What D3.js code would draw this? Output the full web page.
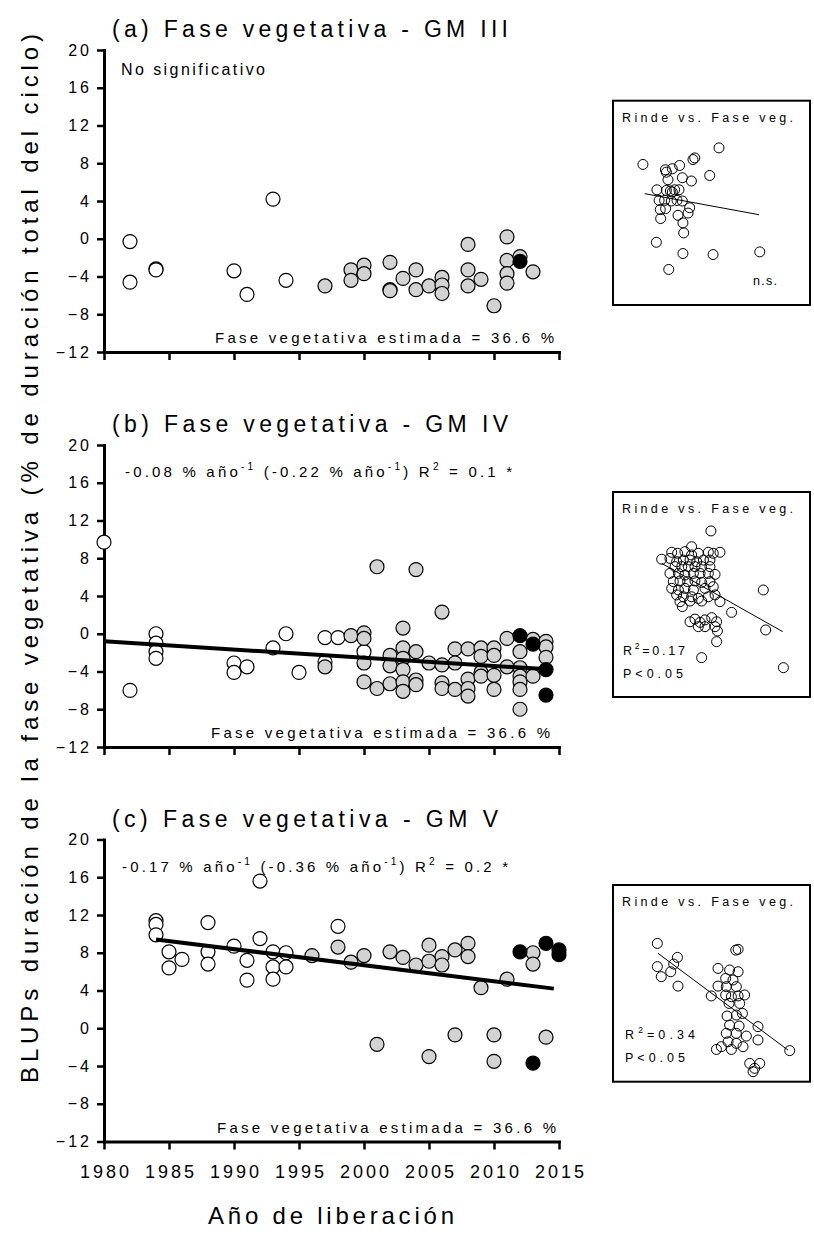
<!DOCTYPE html>
<html>
<head>
<meta charset="utf-8">
<script src="https://cdn.jsdelivr.net/npm/d3@7"></script>
<style>
  body { margin: 0; background: #fff; }
  svg text { font-family: "Liberation Sans", Arial, sans-serif; fill: #000; }
</style>
</head>
<body>
<div id="chart"></div>
<script>
// ticks shared by the three panels
var yTicks = [-12, -8, -4, 0, 4, 8, 12, 16, 20];
var yearTicks = [1980, 1985, 1990, 1995, 2000, 2005, 2010, 2015];

// (a) GM III  [año de liberación, BLUP]
var gm3Old = [[1982, -0.3], [1982, -4.6], [1984, -3.2], [1984, -3.3], [1990, -3.4], [1991, -5.9], [1993, 4.2], [1994, -4.4]];
var gm3Mid = [[1997, -5.0], [1999, -3.3], [1999, -4.4], [2000, -2.8], [2000, -3.7], [2002, -2.5], [2002, -5.4], [2002, -5.5],
  [2003, -4.2], [2004, -3.3], [2004, -5.4], [2005, -5.0], [2006, -4.1], [2006, -4.9], [2006, -5.8], [2008, -0.6], [2008, -3.3],
  [2008, -5.0], [2009, -4.3], [2010, -7.1], [2011, 0.2], [2011, -2.3], [2011, -3.7], [2011, -4.7], [2012, -1.9], [2013, -3.5]];
var gm3New = [[2012, -2.4]];

// (b) GM IV
var gm4Old = [[1980, 9.7], [1982, -6.0], [1984, 0.0], [1984, -1.0], [1984, -1.9], [1984, -2.6], [1990, -3.1], [1990, -4.1],
  [1991, -3.5], [1993, -1.5], [1994, 0.0], [1995, -4.1], [1997, -0.4], [1997, -3.0], [1998, -0.4], [2000, -1.9]];
var gm4Mid = [[1997, -3.5], [1999, -0.2], [2000, 0.1], [2000, -0.5], [2000, -3.1], [2000, -5.1], [2001, 7.1], [2001, -5.8],
  [2002, -2.3], [2002, -3.4], [2002, -5.3], [2003, 0.6], [2003, -1.5], [2003, -2.6], [2003, -3.8], [2003, -5.1], [2003, -6.1],
  [2004, 6.8], [2004, -1.9], [2004, -4.9], [2004, -5.4], [2005, -3.1], [2006, 2.3], [2006, -3.3], [2006, -5.2], [2006, -5.8],
  [2007, -1.6], [2007, -3.1], [2007, -5.9], [2008, -1.6], [2008, -4.8], [2008, -5.8], [2008, -6.6], [2009, -1.5], [2009, -2.4],
  [2009, -4.1], [2009, -4.5], [2010, -1.5], [2010, -2.3], [2010, -4.4], [2010, -5.9], [2011, -0.5], [2011, -3.5], [2012, -1.9],
  [2012, -3.6], [2012, -4.5], [2012, -5.1], [2012, -5.9], [2012, -8.0], [2013, -0.6], [2013, -4.5], [2014, -0.8], [2014, -1.4],
  [2014, -2.5]];
var gm4New = [[2012, -0.2], [2013, -1.1], [2014, -3.8], [2014, -6.5]];
var gm4Trend = [[1980, -0.8], [2014.5, -3.8]];

// (c) GM V
var gm5Old = [[1984, 11.4], [1984, 11.0], [1984, 9.9], [1985, 8.1], [1985, 6.4], [1986, 7.3], [1988, 11.2], [1988, 8.1],
  [1988, 6.8], [1990, 8.7], [1991, 7.2], [1991, 5.1], [1992, 15.6], [1992, 9.5], [1993, 8.1], [1993, 6.5], [1993, 5.2],
  [1994, 8.0], [1994, 6.5], [1998, 10.8]];
var gm5Mid = [[1996, 7.7], [1998, 8.6], [1999, 7.0], [2000, 7.7], [2001, -1.7], [2002, 8.1], [2003, 7.5], [2004, 6.7],
  [2005, 8.8], [2005, 7.1], [2005, -3.0], [2006, 7.6], [2006, 6.7], [2007, 8.3], [2007, -0.7], [2008, 9.0], [2008, 7.6],
  [2009, 4.3], [2010, -0.7], [2010, -3.5], [2011, 5.2], [2013, 8.0], [2013, 6.8], [2014, -0.95]];
var gm5New = [[2012, 8.1], [2013, -3.7], [2014, 9.0], [2015, 8.3], [2015, 7.8]];
var gm5Trend = [[1984, 9.4], [2014.6, 4.2]];

// insets: rinde vs. fase veg. (relative units 0-100)
var insetGM3 = [[15.2, 68.8], [26.6, 66.2], [27.1, 65.0], [30.1, 66.7], [33.8, 68.3], [40.6, 71.2], [41.5, 72.0], [53.8, 76.9],
  [27.9, 61.3], [35.2, 62.3], [39.8, 60.7], [49.1, 63.4], [22.3, 56.4], [27.1, 56.1], [29.1, 55.8], [30.1, 55.3], [31.3, 56.4],
  [33.5, 56.4], [23.4, 51.2], [26.2, 51.2], [29.6, 50.9], [32.5, 51.2], [35.2, 50.9], [38.9, 47.6], [24.0, 46.7], [26.7, 47.2],
  [33.0, 43.9], [38.1, 45.0], [24.2, 42.3], [35.5, 40.2], [35.9, 35.3], [22.0, 30.7], [35.5, 25.2], [50.8, 24.7], [74.5, 26.0],
  [28.3, 17.4]];
var insetGM3Fit = [[16.1, 54.5], [74.1, 44.2]];

var insetGM4 = [[49.7, 81.0], [39.9, 73.3], [29.8, 70.6], [32.8, 70.1], [36.5, 70.9], [39.9, 69.3], [43.3, 70.1], [48.4, 70.6],
  [50.9, 70.1], [54.3, 70.6], [24.7, 67.2], [28.9, 67.6], [32.3, 66.0], [35.7, 66.8], [39.1, 66.8], [42.5, 66.0], [45.9, 66.8],
  [49.2, 66.8], [31.5, 63.6], [34.9, 63.6], [38.2, 63.6], [41.6, 63.6], [45.0, 63.6], [49.2, 63.6], [28.9, 60.3], [33.2, 60.3],
  [36.5, 59.5], [40.8, 60.3], [44.2, 60.3], [48.4, 60.3], [51.8, 59.8], [30.6, 56.3], [34.0, 56.6], [37.9, 56.3], [41.6, 56.6],
  [45.0, 55.9], [49.2, 56.3], [29.8, 53.0], [33.2, 52.2], [36.5, 53.0], [40.8, 52.2], [46.7, 53.0], [50.9, 53.8], [32.3, 49.8],
  [35.7, 48.9], [39.9, 48.9], [43.3, 48.1], [48.4, 48.9], [51.8, 49.8], [54.3, 46.5], [34.0, 46.5], [35.2, 44.1], [39.1, 46.8],
  [45.0, 46.8], [76.3, 52.2], [60.2, 41.3], [39.1, 36.7], [41.6, 38.0], [44.2, 36.4], [46.7, 37.6], [50.1, 38.7], [52.6, 36.7],
  [43.3, 34.3], [46.7, 34.3], [51.8, 34.3], [53.0, 32.2], [77.5, 32.7], [52.6, 27.0], [45.0, 19.2], [86.5, 14.3]];
var insetGM4Fit = [[24.7, 65.2], [86.1, 31.9]];

var insetGM5 = [[22.5, 70.3], [32.7, 63.2], [22.5, 58.5], [24.5, 53.4], [29.3, 55.9], [30.8, 59.8], [33.0, 48.6], [62.3, 66.9],
  [63.5, 67.3], [53.3, 57.6], [59.2, 56.8], [63.5, 55.9], [57.2, 52.5], [60.9, 51.7], [57.5, 48.3], [53.3, 48.6], [62.6, 48.3],
  [57.2, 44.1], [60.1, 43.2], [63.5, 43.6], [66.8, 44.1], [58.9, 39.8], [64.3, 39.8], [49.9, 43.6], [57.9, 33.4], [62.6, 33.9],
  [65.7, 34.7], [59.2, 28.8], [64.0, 28.3], [73.6, 28.0], [57.5, 24.6], [62.6, 24.6], [67.7, 23.2], [73.6, 21.2], [58.4, 20.3],
  [62.6, 19.5], [55.0, 17.8], [52.5, 16.4], [60.1, 16.4], [66.0, 17.8], [89.7, 15.8], [69.4, 9.3], [71.9, 6.8], [74.5, 9.3],
  [71.1, 5.1]];
var insetGM5Fit = [[22.8, 65.3], [88.8, 16.1]];

var svgWidth = 814;
var svgHeight = 1236;
var left = 104, right = 559, plotH = 302;

var svg = d3.select("#chart")
  .append("svg")
  .attr("width", svgWidth)
  .attr("height", svgHeight);

svg.append("rect").attr("width", svgWidth).attr("height", svgHeight).attr("fill", "#fff");

var x = d3.scaleLinear().domain([1980, 2015]).range([left, right]);

var panels = [
  { top: 50, title: "(a) Fase vegetativa - GM III", titleLen: 396, old: gm3Old, mid: gm3Mid, recent: gm3New, trend: null,
    note: { x: 121, dy: 25, len: 144, parts: [["No significativo", 0]] }, estX: 215, years: false,
    inset: { top: 100.7, bottom: 305, pts: insetGM3, fit: insetGM3Fit, labels: [{ x: 753, y: 285, len: 24, parts: [["n.s.", 0]] }] } },
  { top: 445, title: "(b) Fase vegetativa - GM IV", titleLen: 396, old: gm4Old, mid: gm4Mid, recent: gm4New, trend: gm4Trend,
    note: { x: 125, dy: 32, len: 387, parts: [["-0.08 % año", 0], ["-1", 1], [" (-0.22 % año", 0], ["-1", 1], [") R", 0], ["2", 1], [" = 0.1 *", 0]] },
    estX: 211, years: false,
    inset: { top: 492, bottom: 697, pts: insetGM4, fit: insetGM4Fit, labels: [
      { x: 623, y: 655, len: 62, parts: [["R", 0], ["2", 1], ["=0.17", 0]] },
      { x: 623, y: 678, len: 60, parts: [["P<0.05", 0]] }] } },
  { top: 839.5, title: "(c) Fase vegetativa - GM V", titleLen: 386, old: gm5Old, mid: gm5Mid, recent: gm5New, trend: gm5Trend,
    note: { x: 122, dy: 32, len: 386, parts: [["-0.17 % año", 0], ["-1", 1], [" (-0.36 % año", 0], ["-1", 1], [") R", 0], ["2", 1], [" = 0.2 *", 0]] },
    estX: 217, years: true,
    inset: { top: 885, bottom: 1081.7, pts: insetGM5, fit: insetGM5Fit, labels: [
      { x: 625, y: 1039, len: 70, parts: [["R", 0], ["2", 1], ["=0.34", 0]] },
      { x: 625, y: 1062, len: 60, parts: [["P<0.05", 0]] }] } }
];

// text with superscripts, stretched to the measured width
function richText(g, t, size) {
  var el = g.append("text")
    .attr("x", t.x)
    .attr("y", t.y)
    .attr("font-size", size)
    .attr("textLength", t.len)
    .attr("lengthAdjust", "spacing");
  var up = false;
  t.parts.forEach(function(p) {
    var span = el.append("tspan").text(p[0]);
    if (p[1] && !up) { span.attr("dy", -size * 0.45).attr("font-size", size * 0.68); up = true; }
    else if (p[1]) { span.attr("font-size", size * 0.68); }
    else if (up) { span.attr("dy", size * 0.45); up = false; }
  });
  return el;
}

panels.forEach(function(p) {
  var y = d3.scaleLinear().domain([-12, 20]).range([p.top + plotH, p.top]);
  var g = svg.append("g");

  // title
  g.append("text")
    .attr("x", 112)
    .attr("y", p.top - 13)
    .attr("font-size", 23)
    .attr("textLength", p.titleLen)
    .attr("lengthAdjust", "spacing")
    .text(p.title);

  // axes
  var leftAxis = d3.axisLeft(y).tickValues(yTicks).tickSize(7).tickSizeOuter(0).tickPadding(5);
  var bottomAxis = d3.axisBottom(x).tickValues(yearTicks).tickSize(8).tickSizeOuter(0).tickPadding(16)
    .tickFormat(d3.format("d"));
  if (!p.years) bottomAxis.tickFormat("");

  var ya = g.append("g").attr("transform", `translate(${left},0)`).call(leftAxis);
  var xa = g.append("g").attr("transform", `translate(0,${p.top + plotH})`).call(bottomAxis);

  [ya, xa].forEach(function(a) {
    a.select(".domain").attr("stroke", "#000").attr("stroke-width", 3).attr("stroke-linecap", "square");
    a.selectAll(".tick line").attr("stroke", "#000").attr("stroke-width", 2.5);
    a.selectAll(".tick text")
      .attr("font-family", "Liberation Sans, Arial, sans-serif")
      .attr("fill", "#000")
      .attr("letter-spacing", "3px");
  });
  ya.selectAll(".tick text").attr("font-size", 16);
  xa.selectAll(".tick text").attr("font-size", 18).attr("dx", "1.5px");

  // points: old, intermediate and recent releases
  [[p.old, "#fff"], [p.mid, "#d3d3d3"], [p.recent, "#000"]].forEach(function(s) {
    g.append("g").selectAll("circle")
      .data(s[0])
      .enter()
      .append("circle")
      .attr("cx", d => x(d[0]))
      .attr("cy", d => y(d[1]))
      .attr("r", 7)
      .attr("fill", s[1])
      .attr("stroke", "#000")
      .attr("stroke-width", 1.2);
  });

  if (p.trend) {
    var line = d3.line().x(d => x(d[0])).y(d => y(d[1]));
    g.append("path")
      .datum(p.trend)
      .attr("d", line)
      .attr("fill", "none")
      .attr("stroke", "#000")
      .attr("stroke-width", 4);
  }

  // annotations
  richText(g, { x: p.note.x, y: p.top + p.note.dy, len: p.note.len, parts: p.note.parts }, p.trend ? 15 : 16);

  g.append("text")
    .attr("x", p.estX)
    .attr("y", p.top + 293)
    .attr("font-size", 15)
    .attr("textLength", 339)
    .attr("lengthAdjust", "spacing")
    .text("Fase vegetativa estimada = 36.6 %");

  // inset
  var ins = p.inset;
  var ix = d3.scaleLinear().domain([0, 100]).range([613, 810]);
  var iy = d3.scaleLinear().domain([0, 100]).range([ins.bottom, ins.top]);
  var ig = svg.append("g");

  ig.append("rect")
    .attr("x", 613)
    .attr("y", ins.top)
    .attr("width", 197)
    .attr("height", ins.bottom - ins.top)
    .attr("fill", "#fff")
    .attr("stroke", "#000")
    .attr("stroke-width", 2);

  ig.append("text")
    .attr("x", 622)
    .attr("y", ins.top + 21)
    .attr("font-size", 12.5)
    .attr("textLength", 171)
    .attr("lengthAdjust", "spacing")
    .text("Rinde vs. Fase veg.");

  ig.append("g").selectAll("circle")
    .data(ins.pts)
    .enter()
    .append("circle")
    .attr("cx", d => ix(d[0]))
    .attr("cy", d => iy(d[1]))
    .attr("r", 5)
    .attr("fill", "none")
    .attr("stroke", "#000")
    .attr("stroke-width", 1);

  ig.append("path")
    .datum(ins.fit)
    .attr("d", d3.line().x(d => ix(d[0])).y(d => iy(d[1])))
    .attr("stroke", "#000")
    .attr("stroke-width", 1);

  ins.labels.forEach(function(l) { richText(ig, l, 12.5); });
});

// axis titles
svg.append("text")
  .attr("transform", "translate(38, 1083) rotate(-90)")
  .attr("font-size", 24)
  .attr("textLength", 1049)
  .attr("lengthAdjust", "spacing")
  .text("BLUPs duración de la fase vegetativa (% de duración total del ciclo)");

svg.append("text")
  .attr("x", 208)
  .attr("y", 1224)
  .attr("font-size", 24)
  .attr("textLength", 246)
  .attr("lengthAdjust", "spacing")
  .text("Año de liberación");
</script>
</body>
</html>
